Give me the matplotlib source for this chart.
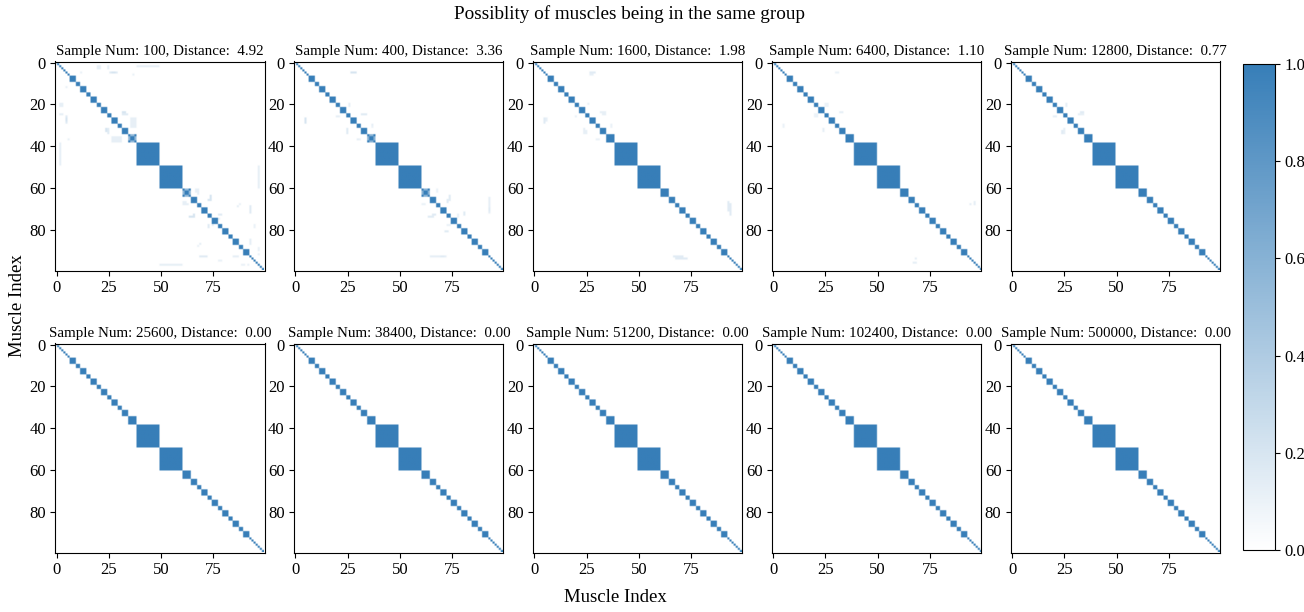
import numpy as np
import matplotlib
matplotlib.use("Agg")
import matplotlib.pyplot as plt
from matplotlib.colors import LinearSegmentedColormap

plt.rcParams['font.family'] = ['Liberation Serif', 'DejaVu Serif']

# ---------------- data ----------------
n_muscles = 100
block_sizes = [1]*7 + [3, 2, 3, 2, 3, 2, 3, 2, 3, 2, 3, 4, 11, 11, 4,
                       3, 2, 3, 2, 3, 2, 3, 2, 3, 2, 3] + [1]*7
sample_nums = [100, 400, 1600, 6400, 12800, 25600, 38400, 51200, 102400, 500000]
distances = [4.92, 3.36, 1.98, 1.10, 0.77, 0.00, 0.00, 0.00, 0.00, 0.00]

# off-block noise: (row0, row1, col0, col1, value) per panel (symmetric)
noise_p1 = [(2, 2, 39, 49, 0.12), (3, 3, 20, 21, 0.12), (3, 3, 25, 25, 0.12),
            (5, 5, 26, 29, 0.15), (6, 6, 37, 37, 0.1), (12, 12, 5, 5, 0.1),
            (20, 21, 2, 2, 0.12), (25, 25, 2, 2, 0.12), (27, 28, 5, 5, 0.2),
            (25, 25, 32, 34, 0.15), (32, 33, 24, 24, 0.2), (27, 31, 36, 38, 0.12),
            (36, 38, 27, 30, 0.1), (61, 62, 67, 67, 0.12), (66, 66, 73, 73, 0.2),
            (68, 68, 61, 63, 0.12), (74, 74, 64, 66, 0.2), (78, 79, 73, 73, 0.15),
            (75, 75, 78, 78, 0.12), (69, 69, 87, 87, 0.12), (70, 71, 93, 93, 0.15),
            (78, 79, 95, 95, 0.1), (88, 88, 68, 68, 0.1), (93, 93, 69, 72, 0.15),
            (93, 93, 85, 87, 0.12), (89, 90, 97, 97, 0.1), (97, 97, 92, 92, 0.1),
            (97, 97, 50, 60, 0.12)]
noise_p2 = [(5, 5, 27, 29, 0.2), (27, 28, 5, 5, 0.15), (20, 21, 26, 26, 0.12),
            (26, 26, 20, 21, 0.12), (25, 25, 32, 34, 0.15), (30, 30, 37, 37, 0.12),
            (32, 33, 25, 25, 0.15), (37, 37, 30, 31, 0.1), (61, 62, 68, 68, 0.1),
            (66, 67, 73, 73, 0.15), (68, 68, 61, 62, 0.1), (74, 74, 64, 66, 0.15),
            (81, 81, 72, 73, 0.15), (73, 74, 78, 78, 0.1), (70, 71, 93, 93, 0.15),
            (93, 93, 65, 72, 0.12)]
noise_p3 = [(5, 5, 27, 29, 0.15), (20, 20, 26, 26, 0.1), (27, 28, 6, 6, 0.12),
            (26, 26, 20, 20, 0.1), (24, 24, 32, 34, 0.12), (30, 31, 37, 37, 0.1),
            (33, 34, 25, 25, 0.12), (37, 37, 30, 31, 0.1), (68, 73, 94, 94, 0.15),
            (93, 93, 67, 71, 0.15)]
noise_p4 = [(5, 5, 30, 30, 0.1), (20, 21, 26, 26, 0.1), (30, 31, 5, 5, 0.1),
            (25, 25, 20, 21, 0.1), (24, 24, 32, 33, 0.1), (32, 33, 24, 24, 0.12),
            (67, 68, 96, 96, 0.12), (94, 94, 68, 68, 0.12)]
noise_p5 = [(20, 21, 26, 26, 0.12), (26, 26, 20, 21, 0.12), (25, 25, 32, 34, 0.12),
            (33, 34, 24, 24, 0.15)]
panel_noise = [noise_p1, noise_p2, noise_p3, noise_p4, noise_p5, [], [], [], [], []]
# panels whose 4-muscle groups are not fully resolved (value of non-X cells)
partial_blocks = [0.55, 0.6, None, None, None, None, None, None, None, None]

# ---------------- build matrices ----------------
def build(noise, partial):
    m = np.zeros((n_muscles, n_muscles))
    s = 0
    for b in block_sizes:
        m[s:s + b, s:s + b] = 1.0
        if partial is not None and b == 4:
            for i in range(4):
                for j in range(4):
                    if i != j and i + j != 3:
                        m[s + i, s + j] = partial
        s += b
    for r0, r1, c0, c1, v in noise:
        m[r0:r1 + 1, c0:c1 + 1] = np.maximum(m[r0:r1 + 1, c0:c1 + 1], v)
        m[c0:c1 + 1, r0:r1 + 1] = np.maximum(m[c0:c1 + 1, r0:r1 + 1], v)
    return m

cmap = LinearSegmentedColormap.from_list("lb", ["#ffffff", "#377eb8"])

W, H = 1304, 612
fig = plt.figure(figsize=(W / 100, H / 100), dpi=100)

pw = 209
lefts = [55.5 + 238.9 * i for i in range(5)]
tops = [61.5, 343.5]
im = None
for k in range(10):
    r, c = divmod(k, 5)
    ax = fig.add_axes([lefts[c] / W, 1 - (tops[r] + pw) / H, pw / W, pw / H])
    mat = build(panel_noise[k], partial_blocks[k])
    im = ax.imshow(mat, cmap=cmap, vmin=0, vmax=1)
    ax.set_title(f"Sample Num: {sample_nums[k]}, Distance: {distances[k]:5.2f}",
                 fontsize=10.8, pad=5)
    ax.tick_params(labelsize=12)

cax = fig.add_axes([1242.7 / W, 1 - 550 / H, 32.3 / W, 486 / H])
cb = fig.colorbar(im, cax=cax, ticks=[0, 0.2, 0.4, 0.6, 0.8, 1.0])
cb.ax.tick_params(labelsize=12)
cb.outline.set_linewidth(0.8)

fig.text(630 / W, 1 - 14 / H, "Possiblity of muscles being in the same group",
         ha='center', va='center', fontsize=13.8)
fig.text(615 / W, 1 - 598 / H, "Muscle Index", ha='center', va='center', fontsize=13.5)
fig.text(18 / W, 1 - 306 / H, "Muscle Index", ha='center', va='center',
         rotation=90, fontsize=13.5)

fig.savefig("out.png", dpi=100)
